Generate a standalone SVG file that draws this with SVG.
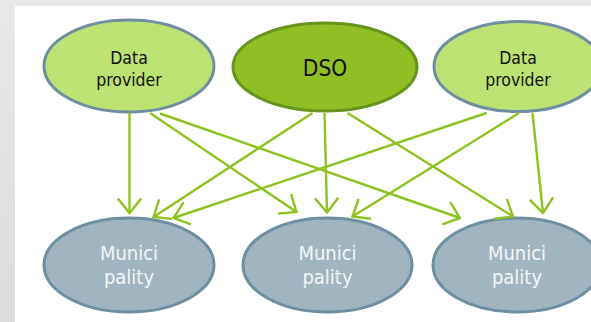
<svg xmlns="http://www.w3.org/2000/svg" width="591" height="322" viewBox="0 0 591 322">
  <defs>
    <linearGradient id="bg" x1="0" y1="0" x2="0" y2="1">
      <stop offset="0" stop-color="#e8e8e8"/>
      <stop offset="1" stop-color="#dcdcdc"/>
    </linearGradient>
    <marker id="arr" viewBox="0 0 17 26" refX="15.5" refY="13" markerWidth="17" markerHeight="26" markerUnits="userSpaceOnUse" orient="auto">
      <path d="M1,1.3 L15.5,13 L1,24.7" fill="none" stroke="#8dc21f" stroke-width="2.4"/>
    </marker>
  </defs>
  <style>
    .dp { fill: #bde274; stroke: #6f8fa0; stroke-width: 3; }
    .dso { fill: #8fbf24; stroke: #67941d; stroke-width: 3; }
    .mu { fill: #a0b5c0; stroke: #6e8fa0; stroke-width: 3; }
    .tdark { font-family: "DejaVu Sans Condensed", "DejaVu Sans", sans-serif; fill: #111; text-anchor: middle; }
    .tlight { font-family: "DejaVu Sans Condensed", "DejaVu Sans", sans-serif; fill: #f4f6f7; text-anchor: middle; font-size: 20px; }
    .conn line { stroke: #8dc21f; stroke-width: 2.4; marker-end: url(#arr); }
  </style>
  <rect x="0" y="0" width="591" height="322" fill="url(#bg)"/>
  <rect x="15" y="6" width="576" height="316" fill="#ffffff"/>

  <g id="dp-left">
    <ellipse class="dp" cx="129" cy="66" rx="85" ry="46"/>
    <text class="tdark" x="129" y="64" font-size="17.5">Data</text>
    <text class="tdark" x="129" y="86" font-size="17.5">provider</text>
  </g>
  <g id="dso">
    <ellipse class="dso" cx="325" cy="67" rx="92" ry="44"/>
    <text class="tdark" x="325" y="76" font-size="22.5">DSO</text>
  </g>
  <g id="dp-right">
    <ellipse class="dp" cx="518" cy="66.5" rx="84" ry="45"/>
    <text class="tdark" x="518" y="64" font-size="17.5">Data</text>
    <text class="tdark" x="518" y="86" font-size="17.5">provider</text>
  </g>

  <g id="muni-left">
    <ellipse class="mu" cx="129" cy="265" rx="85" ry="47"/>
    <text class="tlight" x="129" y="260">Munici</text>
    <text class="tlight" x="129" y="284">pality</text>
  </g>
  <g id="muni-middle">
    <ellipse class="mu" cx="327.5" cy="265" rx="84.5" ry="47"/>
    <text class="tlight" x="327.5" y="260">Munici</text>
    <text class="tlight" x="327.5" y="284">pality</text>
  </g>
  <g id="muni-right">
    <ellipse class="mu" cx="517" cy="265" rx="84" ry="47"/>
    <text class="tlight" x="517" y="260">Munici</text>
    <text class="tlight" x="517" y="284">pality</text>
  </g>

  <g id="connectors" class="conn">
    <line x1="129.5" y1="113" x2="129.5" y2="213"/>
    <line x1="150" y1="113" x2="296.5" y2="212"/>
    <line x1="160" y1="113.5" x2="460" y2="218"/>
    <line x1="312.5" y1="113" x2="153.5" y2="217"/>
    <line x1="324.5" y1="113" x2="327" y2="212.5"/>
    <line x1="347.5" y1="113" x2="513" y2="216.5"/>
    <line x1="486.5" y1="113" x2="173.5" y2="218"/>
    <line x1="519" y1="113" x2="352.5" y2="216.5"/>
    <line x1="532.5" y1="113" x2="543" y2="213"/>
  </g>
</svg>
